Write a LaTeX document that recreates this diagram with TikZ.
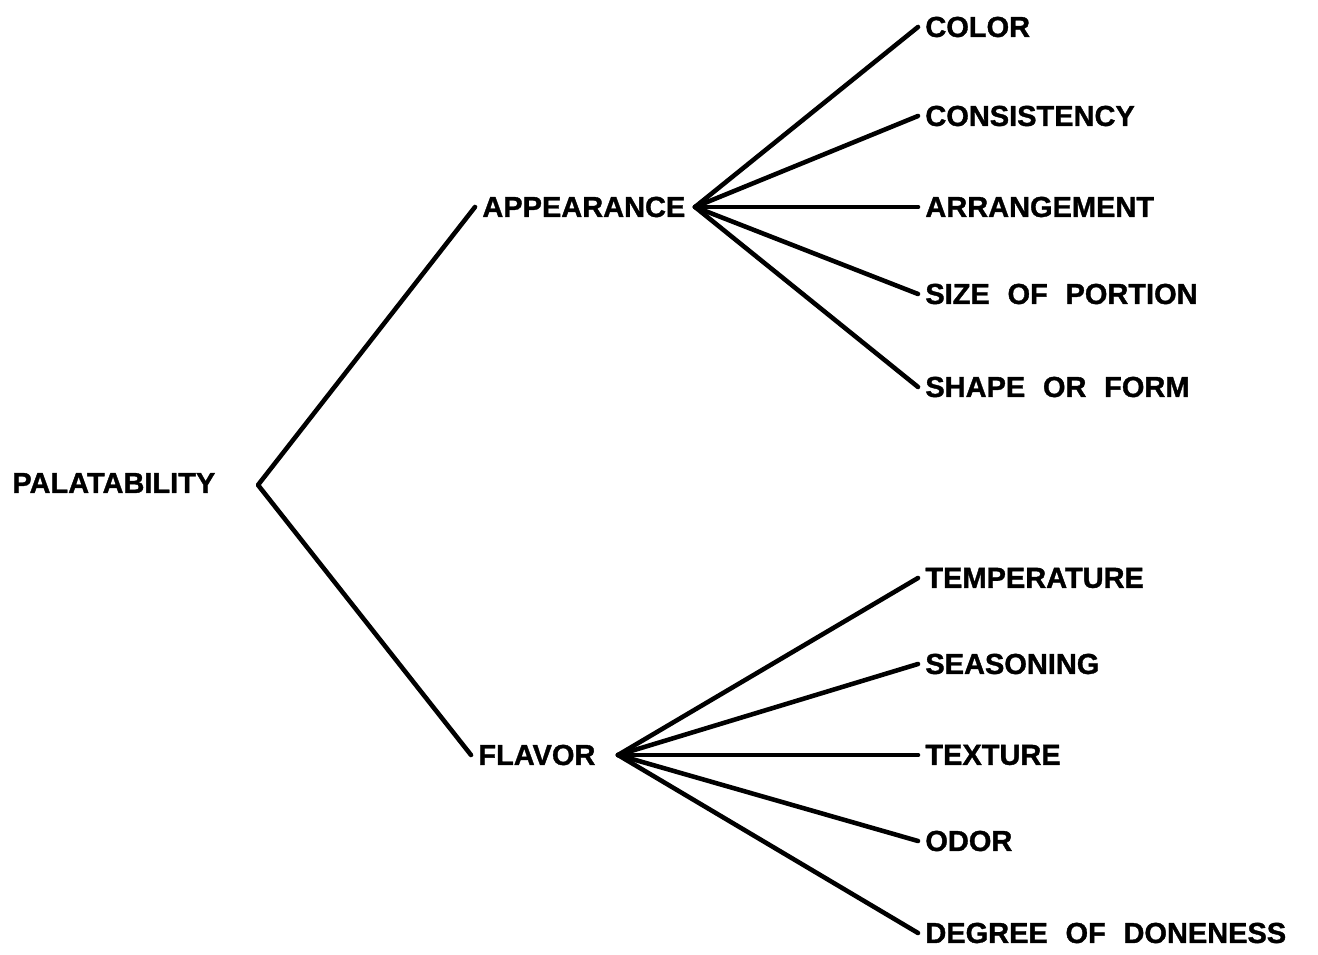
\documentclass[tikz,border=0pt]{standalone}
\usepackage{fontspec}
\newfontfamily\treefont[WordSpace=2.2, FakeBold=1.2]{Liberation Sans Bold}
\usetikzlibrary{positioning}
\tikzstyle{branch} = [line width=2.6pt, line join=round, line cap=round]
\tikzstyle{word} = [anchor=west, inner sep=4pt, font=\treefont\fontsize{16.5}{20}\selectfont]
\begin{document}
\begin{tikzpicture}[x=0.02cm, y=-0.02cm]
    \useasboundingbox (0,0) rectangle (1318,955);

    % Root
    \node[word] (pal) at (5,483) {PALATABILITY};
    \coordinate (palV) at (258,485);

    % Second level
    \node[word] (app) at (475,207) {APPEARANCE};
    \coordinate (appV) at (695,207);
    \node[word] (flv) at (471,755) {FLAVOR};
    \coordinate (flvV) at (618,755);

    \draw[branch] (app.west) -- (palV) -- (flv.west);

    % Appearance terms
    \node[word] (color) at (918,27) {COLOR};
    \node[word] (cons) at (918,116) {CONSISTENCY};
    \node[word] (arr) at (918,207) {ARRANGEMENT};
    \node[word] (size) at (918,294) {SIZE OF PORTION};
    \node[word] (shape) at (918,387) {SHAPE OR FORM};

    \draw[branch] (appV) -- (color.west);
    \draw[branch] (appV) -- (cons.west);
    \draw[branch] (appV) -- (arr.west);
    \draw[branch] (appV) -- (size.west);
    \draw[branch] (appV) -- (shape.west);

    % Flavor terms
    \node[word] (temp) at (918,578) {TEMPERATURE};
    \node[word] (seas) at (918,664) {SEASONING};
    \node[word] (text) at (918,755) {TEXTURE};
    \node[word] (odor) at (918,841) {ODOR};
    \node[word] (done) at (918,933) {DEGREE OF DONENESS};

    \draw[branch] (flvV) -- (temp.west);
    \draw[branch] (flvV) -- (seas.west);
    \draw[branch] (flvV) -- (text.west);
    \draw[branch] (flvV) -- (odor.west);
    \draw[branch] (flvV) -- (done.west);
\end{tikzpicture}
\end{document}
